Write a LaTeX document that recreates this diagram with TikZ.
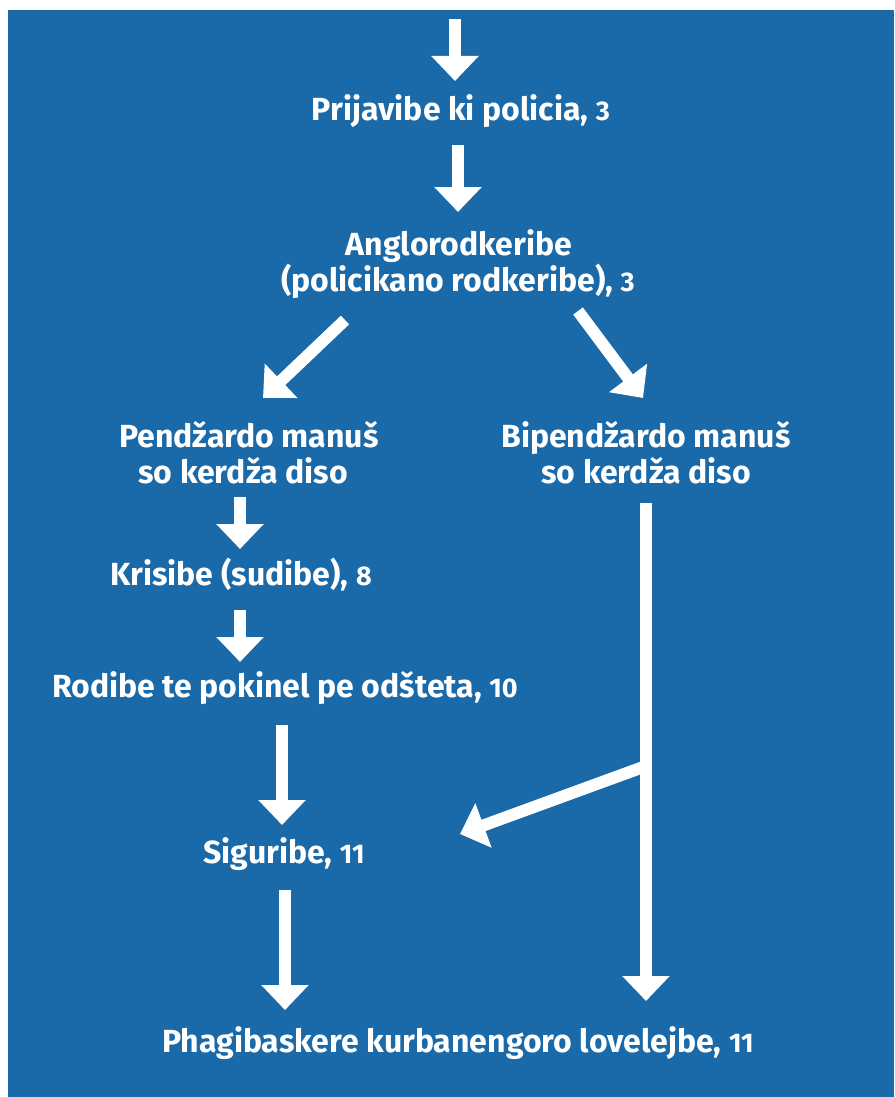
\documentclass[tikz,border=0pt]{standalone}
\usepackage{fontspec}
\setmainfont{Fira Sans}
\usetikzlibrary{arrows.meta}
\definecolor{bg}{RGB}{26,105,168}
\newcommand{\sm}[1]{{\fontsize{27}{32}\selectfont #1}}
\tikzset{
  lbl/.style={text=white,font=\bfseries\fontsize{32}{36}\selectfont,anchor=base,inner sep=0pt,align=center},
  arr/.style={draw=white,line width=12pt,-{Triangle[width=46pt,length=25pt]}},
  seg/.style={draw=white,line width=12pt}
}
\begin{document}
\begin{tikzpicture}[x=1pt,y=-1pt]
\useasboundingbox (0,0) rectangle (894,1097);
\fill[white] (0,0) rectangle (894,1097);
\fill[bg] (8,10) rectangle (894,1097);
% labels
\node[lbl] (n1) at (461,121) {Prijavibe ki policia, \sm{3}};
\node[lbl] (n2a) at (459,255) {Anglorodkeribe};
\node[lbl] (n2b) at (458,291) {(policikano rodkeribe), \sm{3}};
\node[lbl] (n3a) at (249,447) {Pendžardo manuš};
\node[lbl] (n3b) at (243,483) {so kerdža diso};
\node[lbl] (n4a) at (646,447) {Bipendžardo manuš};
\node[lbl] (n4b) at (646,483) {so kerdža diso};
\node[lbl] (n5) at (241,585) {Krisibe (sudibe), \sm{8}};
\node[lbl] (n6) at (285,697) {Rodibe te pokinel pe odšteta, \sm{10}};
\node[lbl] (n7) at (284,863) {Siguribe, \sm{11}};
\node[lbl] (n8) at (458,1052) {Phagibaskere kurbanengoro lovelejbe, \sm{11}};
% arrow coordinates
\coordinate (a0s) at (455,19);   \coordinate (a0e) at (455,81);
\coordinate (a1s) at (458,145);  \coordinate (a1e) at (458,212);
\coordinate (a2s) at (345,320);  \coordinate (a2e) at (263,398);
\coordinate (a3s) at (578,311);  \coordinate (a3e) at (643,398);
\coordinate (a4s) at (240,497);  \coordinate (a4e) at (240,549);
\coordinate (a5s) at (240,610);  \coordinate (a5e) at (240,662);
\coordinate (a6s) at (282,725);  \coordinate (a6e) at (282,825);
\coordinate (a7s) at (285,890);  \coordinate (a7e) at (285,1010);
\coordinate (b0) at (646,503);   \coordinate (b1) at (646,1001);
\coordinate (bj) at (646,766);   \coordinate (be) at (460,834);
\path[arr] (a0s) -- (a0e);
\path[arr] (a1s) -- (a1e);
\path[arr] (a2s) -- (a2e);
\path[arr] (a3s) -- (a3e);
\path[arr] (a4s) -- (a4e);
\path[arr] (a5s) -- (a5e);
\path[arr] (a6s) -- (a6e);
\path[arr] (a7s) -- (a7e);
\path[arr] (b0) -- (b1);
\path[arr] (bj) -- (be);
\end{tikzpicture}
\end{document}
